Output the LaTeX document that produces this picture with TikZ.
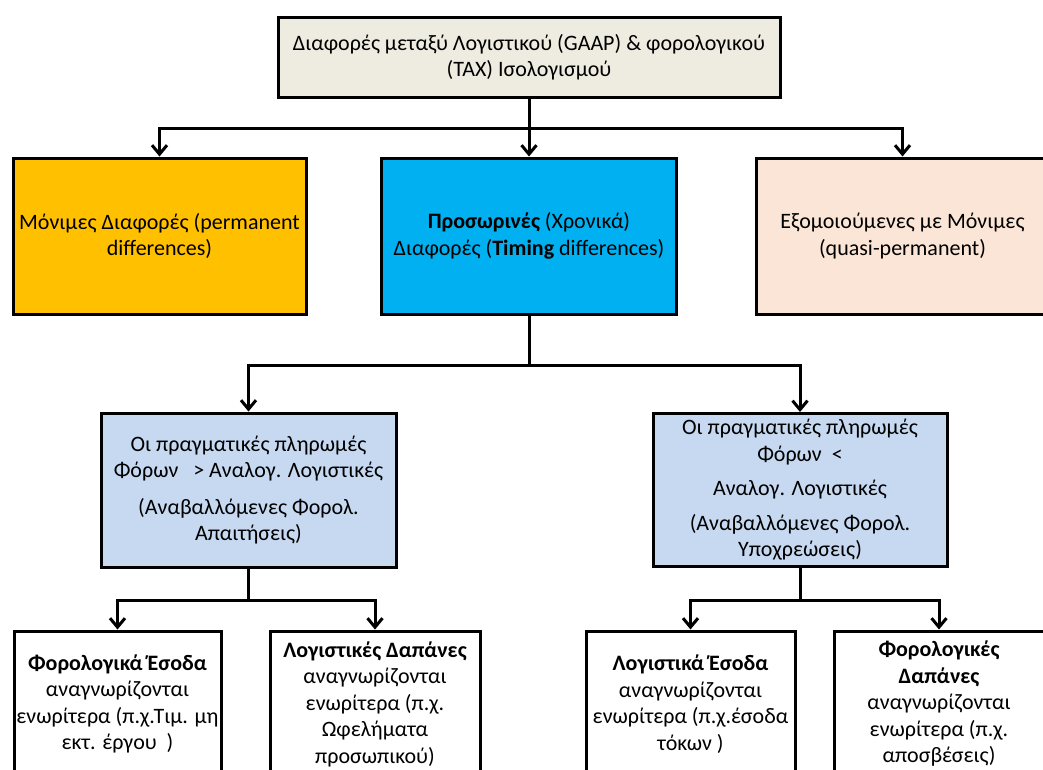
\documentclass[tikz,border=0pt]{standalone}
\usepackage{fontspec}
\setmainfont{Carlito}
\usetikzlibrary{arrows.meta}

\definecolor{gaapbeige}{HTML}{EEECE1}
\definecolor{permgold}{HTML}{FFC000}
\definecolor{timecyan}{HTML}{00B0F0}
\definecolor{quasipeach}{HTML}{FBE5D6}
\definecolor{defblue}{HTML}{C6D9F1}

\begin{document}
\begin{tikzpicture}[x=1pt,y=-1pt,
		box/.style={draw=black,line width=3pt,align=center,inner sep=2pt,font=\fontsize{22}{26.5}\selectfont},
		link/.style={line width=3pt,-{Straight Barb[length=9pt,width=15pt]}}]
			\clip (0,0) rectangle (1043,769);
			\fill[white] (0,0) rectangle (1043,769);
			\node[box,fill=gaapbeige,minimum width=502pt,minimum height=80pt] (gaap) at (529,57)
				{Διαφορές μεταξύ Λογιστικού (GAAP) \& φορολογικού\\(TAX) Ισολογισμού};
			\node[box,fill=permgold,minimum width=293pt,minimum height=156pt] (perm) at (159.5,236)
				{Μόνιμες Διαφορές (permanent\\differences)};
			\node[box,fill=timecyan,minimum width=295pt,minimum height=156pt] (timing) at (529,236)
				{\textbf{Προσωρινές} (Χρονικά)\\Διαφορές (\textbf{Timing} differences)};
			\node[box,fill=quasipeach,minimum width=293pt,minimum height=156pt] (quasi) at (902.5,236)
				{Εξομοιούμενες με Μόνιμες\\(quasi-permanent)};
			\node[box,fill=defblue,minimum width=295pt,minimum height=154pt] (defasset) at (248.5,490)
				{Οι πραγματικές πληρωμές\\Φόρων~~ > Αναλογ. Λογιστικές\\[10pt](Αναβαλλόμενες Φορολ.\\Απαιτήσεις)};
			\node[box,fill=defblue,minimum width=294pt,minimum height=153pt] (defliab) at (800,490)
				{Οι πραγματικές πληρωμές\\Φόρων~~<\\[8pt]Αναλογ. Λογιστικές\\[8pt](Αναβαλλόμενες Φορολ.\\Υποχρεώσεις)};
			\node[box,fill=white,minimum width=207pt,minimum height=146pt] (taxinc) at (117.5,704)
				{\textbf{Φορολογικά Έσοδα}\\αναγνωρίζονται\\ενωρίτερα (π.χ.Τιμ. μη\\εκτ. έργου~~)};
			\node[box,fill=white,minimum width=210pt,minimum height=146pt] (accexp) at (375,704)
				{\textbf{Λογιστικές Δαπάνες}\\αναγνωρίζονται\\ενωρίτερα (π.χ.\\Ωφελήματα\\προσωπικού)};
			\node[box,fill=white,minimum width=209pt,minimum height=146pt] (accinc) at (690.5,704)
				{\textbf{Λογιστικά Έσοδα}\\αναγνωρίζονται\\ενωρίτερα (π.χ.έσοδα\\τόκων~)};
			\node[box,fill=white,minimum width=210pt,minimum height=146pt] (taxexp) at (939,704)
				{\textbf{Φορολογικές}\\\textbf{Δαπάνες}\\αναγνωρίζονται\\ενωρίτερα (π.χ.\\αποσβέσεις)};
			\draw[link] (gaap.south) -- ++(0,30) -| (perm.north);
			\draw[link] (gaap.south) -- (timing.north);
			\draw[link] (gaap.south) -- ++(0,30) -| (quasi.north);
			\draw[link] (timing.south) -- ++(0,50) -| (defasset.north);
			\draw[link] (timing.south) -- ++(0,50) -| (defliab.north);
			\draw[link] (defasset.south) -- ++(0,32) -| (taxinc.north);
			\draw[link] (defasset.south) -- ++(0,32) -| (accexp.north);
			\draw[link] (defliab.south) -- ++(0,32) -| (accinc.north);
			\draw[link] (defliab.south) -- ++(0,32) -| (taxexp.north);
		\end{tikzpicture}
\end{document}
